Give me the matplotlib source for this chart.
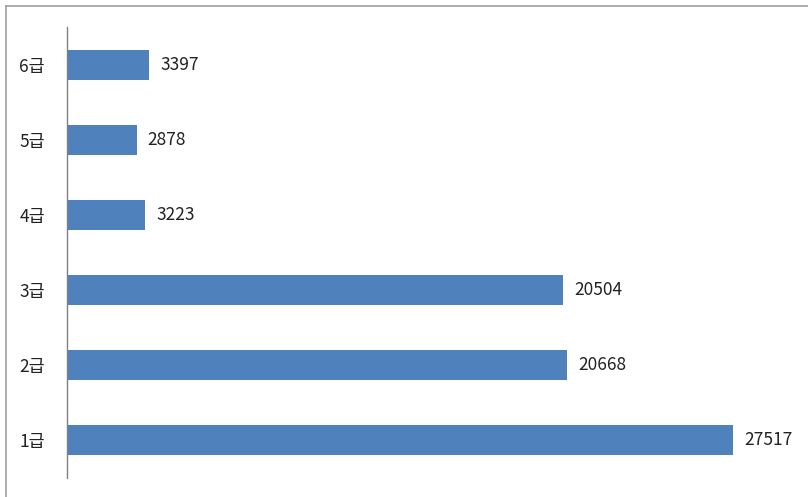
import matplotlib
matplotlib.use("Agg")
import matplotlib.pyplot as plt
from matplotlib.lines import Line2D

plt.rcParams['font.family'] = ['Noto Sans CJK KR', 'DejaVu Sans']

categories = ["1급", "2급", "3급", "4급", "5급", "6급"]
values = [27517, 20668, 20504, 3223, 2878, 3397]

W, H = 808, 497
fig = plt.figure(figsize=(W / 100, H / 100), dpi=100)

# outer frame of the chart area (top and left edges)
fig.add_artist(Line2D([6 / W, 6 / W], [0, 1 - 6 / H], transform=fig.transFigure,
                      color="#a0a0a0", lw=1.2))
fig.add_artist(Line2D([6 / W, 1], [1 - 6 / H, 1 - 6 / H], transform=fig.transFigure,
                      color="#a0a0a0", lw=1.2))

ax = fig.add_axes([67 / W, (H - 478) / H, 726 / W, 451 / H])
y = list(range(len(categories)))
ax.barh(y, values, height=0.4, color="#4F81BD")
ax.set_xlim(0, 30000)
ax.set_ylim(-0.5, 5.5)
ax.set_yticks(y)
ax.set_yticklabels(categories, fontsize=12.5, color="#222222")
ax.tick_params(axis="y", length=0, pad=16)
ax.set_xticks([])
for s in ["top", "right", "bottom"]:
    ax.spines[s].set_visible(False)
ax.spines["left"].set_color("#808080")
ax.spines["left"].set_linewidth(1)

for yi, v in zip(y, values):
    ax.annotate(str(v), (v, yi), xytext=(8, 0), textcoords="offset points",
                va="center", ha="left", fontsize=12.5, color="#222222")

fig.savefig("out.png", dpi=100)
